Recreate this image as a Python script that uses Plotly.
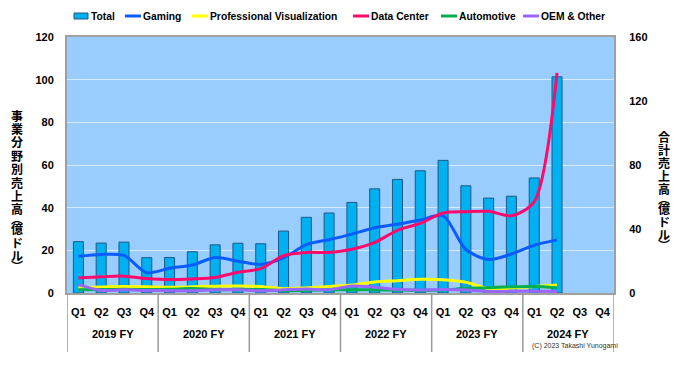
import plotly.graph_objects as go

fiscal_years = ["2019 FY", "2020 FY", "2021 FY", "2022 FY", "2023 FY", "2024 FY"]
quarter_names = ["Q1", "Q2", "Q3", "Q4"]
categories = [f"{fy} {q}" for fy in fiscal_years for q in quarter_names]
quarters = [q for fy in fiscal_years for q in quarter_names]

total = [32.1, 31.2, 31.8, 22.1, 22.2, 25.8, 30.1, 31.1, 30.8, 38.7, 47.3, 50.0,
         56.6, 65.1, 71.0, 76.4, 82.9, 67.0, 59.3, 60.5, 71.9, 135.1, None, None]
gaming = [17.2, 18.1, 17.6, 9.5, 11.6, 13.1, 16.6, 14.9, 13.4, 16.5, 22.7, 25.0,
          27.6, 30.6, 32.2, 34.2, 36.2, 20.4, 15.7, 18.3, 22.4, 24.9, None, None]
pro_vis = [2.5, 2.8, 3.1, 2.9, 2.7, 2.9, 3.2, 3.3, 3.1, 2.0, 2.4, 3.1,
           3.7, 5.2, 5.8, 6.4, 6.2, 5.0, 2.0, 2.3, 3.0, 3.8, None, None]
data_center = [7.0, 7.6, 7.9, 6.8, 6.3, 6.6, 7.3, 9.7, 11.4, 17.5, 19.0, 19.0,
               20.5, 23.7, 29.4, 32.6, 37.5, 38.1, 38.3, 36.2, 42.8, 103.2, None, None]
automotive = [1.5, 1.6, 1.7, 1.6, 1.7, 2.1, 1.6, 1.6, 1.6, 1.1, 1.3, 1.5,
              1.5, 1.5, 1.4, 1.3, 1.4, 2.2, 2.5, 2.9, 3.0, 2.5, None, None]
oem_other = [3.9, 1.2, 1.5, 1.2, 1.1, 1.1, 1.5, 1.5, 1.0, 1.5, 1.9, 1.5,
             3.3, 2.7, 1.7, 1.4, 1.6, 1.4, 0.7, 0.8, 0.8, 0.7, None, None]

left_ticks = [0, 20, 40, 60, 80, 100, 120]
right_ticks = [0, 40, 80, 120, 160]
left_title = ["事", "業", "分", "野", "別", "売", "上", "高", "︵", "億", "ド", "ル", "︶"]
right_title = ["合", "計", "売", "上", "高", "︵", "億", "ド", "ル", "︶"]

W, H = 677, 366
L, R, T, B = 67, 614, 37, 293
PW, PH = R - L, B - T


def px(x):
    return (x - L) / PW


def py(y):
    return (B - y) / PH


BAR = "#00B0F0"
BAR_EDGE = "#1F5A85"
line_series = [
    ("Gaming", gaming, "#0A5CFF"),
    ("Professional Visualization", pro_vis, "#FFFF00"),
    ("Data Center", data_center, "#FF0A6C"),
    ("Automotive", automotive, "#00B050"),
    ("OEM & Other", oem_other, "#9966FF"),
]

fig = go.Figure()
fig.add_trace(go.Bar(x=categories, y=total, name="Total", yaxis="y", width=0.44,
                     marker=dict(color=BAR, line=dict(color=BAR_EDGE, width=1))))
for name, vals, col in line_series:
    fig.add_trace(go.Scatter(x=categories, y=vals, name=name, yaxis="y2", mode="lines",
                             line=dict(color=col, width=3, shape="spline", smoothing=0.8)))

FONT = "Liberation Sans"
tickfont = dict(family=FONT, size=11, color="black", weight="bold")

fig.update_layout(
    width=W, height=H,
    margin=dict(l=L, r=W - R, t=T, b=H - B),
    paper_bgcolor="white",
    plot_bgcolor="#99CCFF",
    showlegend=False,
    xaxis=dict(type="category", categoryorder="array", categoryarray=categories,
               tickvals=categories, ticktext=quarters,
               showline=True, linecolor="#A0A0A0", linewidth=2, mirror=True,
               showgrid=False, tickfont=tickfont, tickangle=0,
               ticks="", ticklabelstandoff=8, range=[-0.5, len(categories) - 0.5]),
    yaxis=dict(side="right", range=[0, 160], tickvals=right_ticks, showgrid=False,
               showline=True, linecolor="#A0A0A0", linewidth=2, mirror=True,
               ticks="outside", ticklen=11, tickcolor="rgba(0,0,0,0)", tickfont=tickfont,
               zeroline=False),
    yaxis2=dict(side="left", overlaying="y", range=[0, 120], tickvals=left_ticks,
                showgrid=True, gridcolor="rgba(235,245,255,0.75)", gridwidth=1.2,
                ticks="outside", ticklen=10, tickcolor="rgba(0,0,0,0)", tickfont=tickfont,
                zeroline=False, showline=False),
)

ann = []
shapes = []

# vertical axis titles: upright stacked characters
title_font = dict(family="Noto Sans CJK JP", size=12, color="black", weight="bold")


def stack(chars, x_px, y_start, pitch, paren_pitch):
    y = y_start
    prev = None
    for ch in chars:
        if prev is not None:
            y += paren_pitch if (ch in "︵︶" or prev in "︵︶") else pitch
        ann.append(dict(text=ch, x=px(x_px), y=py(y), xref="paper", yref="paper",
                        showarrow=False, xanchor="center", yanchor="middle", font=title_font))
        prev = ch


stack(left_title, 17, 115, 13.4, 10.0)
stack(right_title, 664, 136, 13.0, 10.0)

# fiscal-year group labels and dividers below the category axis
nq = len(quarter_names)
for g, fy in enumerate(fiscal_years):
    ann.append(dict(text=fy, x=g * nq + (nq - 1) / 2, y=py(334), xref="x", yref="paper",
                    showarrow=False, xanchor="center", yanchor="middle", font=tickfont))
for g in range(len(fiscal_years) + 1):
    xv = g * nq - 0.5
    shapes.append(dict(type="line", xref="x", yref="paper", x0=xv, x1=xv, y0=0, y1=py(352),
                       line=dict(color="#9A9A9A", width=1.5)))

# custom legend
legend_font = dict(family=FONT, size=10.3, color="black", weight="bold")
ly = 16
shapes.append(dict(type="rect", xref="paper", yref="paper", x0=px(74), x1=px(88),
                   y0=py(ly + 3), y1=py(ly - 3), fillcolor=BAR, line=dict(color=BAR_EDGE, width=1)))
ann.append(dict(text="Total", x=px(89), y=py(ly), xref="paper", yref="paper", showarrow=False,
                xanchor="left", yanchor="middle", font=legend_font))
text_x = [142, 209, 370, 458, 540]
for (name, vals, col), tx in zip(line_series, text_x):
    shapes.append(dict(type="line", xref="paper", yref="paper", x0=px(tx - 17), x1=px(tx - 1),
                       y0=py(ly), y1=py(ly), line=dict(color=col, width=3)))
    ann.append(dict(text=name, x=px(tx - 1), y=py(ly), xref="paper", yref="paper", showarrow=False,
                    xanchor="left", yanchor="middle", font=legend_font))

ann.append(dict(text="(C) 2023 Takashi Yunogami", x=px(620), y=py(346), xref="paper", yref="paper",
                showarrow=False, xanchor="right", yanchor="middle",
                font=dict(family=FONT, size=7, color="#333333")))

fig.update_layout(annotations=ann, shapes=shapes)
fig.write_html("out.html", config={"displayModeBar": False},
               post_script="document.body.style.margin='0';")
